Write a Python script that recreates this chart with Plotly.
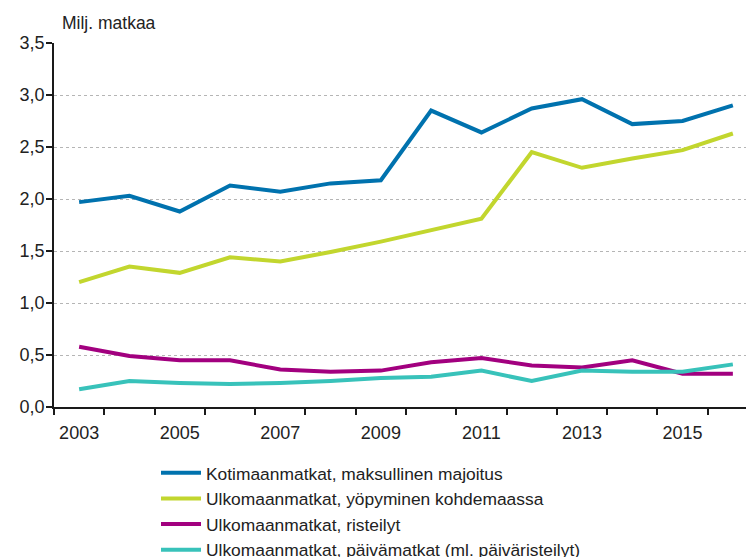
import plotly.graph_objects as go

years = list(range(2003, 2017))
kotimaan = [1.97, 2.03, 1.88, 2.13, 2.07, 2.15, 2.18, 2.85, 2.64, 2.87, 2.96, 2.72, 2.75, 2.90]
ulko_yopyminen = [1.20, 1.35, 1.29, 1.44, 1.40, 1.49, 1.59, 1.70, 1.81, 2.45, 2.30, 2.39, 2.47, 2.63]
ulko_risteilyt = [0.58, 0.49, 0.45, 0.45, 0.36, 0.34, 0.35, 0.43, 0.47, 0.40, 0.38, 0.45, 0.32, 0.32]
ulko_paiva = [0.17, 0.25, 0.23, 0.22, 0.23, 0.25, 0.28, 0.29, 0.35, 0.25, 0.35, 0.34, 0.34, 0.41]

names = [
    "Kotimaanmatkat, maksullinen majoitus",
    "Ulkomaanmatkat, yöpyminen kohdemaassa",
    "Ulkomaanmatkat, risteilyt",
    "Ulkomaanmatkat, päivämatkat (ml. päiväristeilyt)",
]
series = [kotimaan, ulko_yopyminen, ulko_risteilyt, ulko_paiva]
colors = ["#0072AE", "#C2D62E", "#A2007F", "#38C2BA"]
label_years = [2003, 2005, 2007, 2009, 2011, 2013, 2015]
y_ticks = [0, 0.5, 1.0, 1.5, 2.0, 2.5, 3.0, 3.5]

FONT = "Liberation Sans, Arial, sans-serif"
TXT = "#222222"

fig = go.Figure()
for nm, vals, col in zip(names, series, colors):
    fig.add_trace(go.Scatter(x=years, y=vals, name=nm, mode="lines",
                             line=dict(color=col, width=4), legendgroup=nm))

# page has an 8px body margin; figure coordinates = page coordinates - 8
W, H = 754, 557
L, T, B, R = 46, 35, 158, 4
PW = W - L - R
PH = H - T - B
fig.update_layout(
    width=W, height=H,
    margin=dict(l=L, r=R, t=T, b=B, autoexpand=False),
    plot_bgcolor="white", paper_bgcolor="white",
    separators=", ",
    font=dict(family=FONT, size=17, color=TXT),
    showlegend=True,
    legend=dict(
        x=(148 - L) / PW, xanchor="left",
        y=-(48 / PH), yanchor="top",
        orientation="v",
        font=dict(family=FONT, size=17.4, color=TXT),
        itemwidth=40,
        tracegroupgap=0,
        bgcolor="rgba(0,0,0,0)",
    ),
    xaxis=dict(
        range=[2002.5, 2016.5], automargin=False,
        tickmode="array", tickvals=label_years, ticktext=[str(v) for v in label_years],
        ticks="", ticklabelstandoff=9,
        showgrid=False, zeroline=False,
        showline=True, linecolor="#1a1a1a", linewidth=1.5,
        minor=dict(tickmode="array", tickvals=[y + 0.5 for y in range(2002, 2017)],
                   ticks="outside", ticklen=6, tickcolor="#1a1a1a", tickwidth=1.5,
                   showgrid=False),
        tickfont=dict(family=FONT, size=18, color=TXT),
    ),
    yaxis=dict(
        range=[0, 3.5], automargin=False,
        tickmode="array", tickvals=y_ticks, tickformat=".1f",
        ticks="outside", ticklen=6, tickcolor="#1a1a1a", tickwidth=1.5,
        ticklabelstandoff=-2,
        showgrid=True, gridcolor="#b5b5b5", griddash="dot", gridwidth=1,
        zeroline=False,
        showline=True, linecolor="#1a1a1a", linewidth=1.5,
        tickfont=dict(family=FONT, size=18, color=TXT),
    ),
    annotations=[dict(
        text="Milj. matkaa", xref="paper", yref="paper",
        x=(52 - L) / PW, y=1 + (T - 15) / PH,
        xanchor="left", yanchor="middle", showarrow=False,
        font=dict(family=FONT, size=17.5, color=TXT),
    )],
)

fig.write_html("out.html")
